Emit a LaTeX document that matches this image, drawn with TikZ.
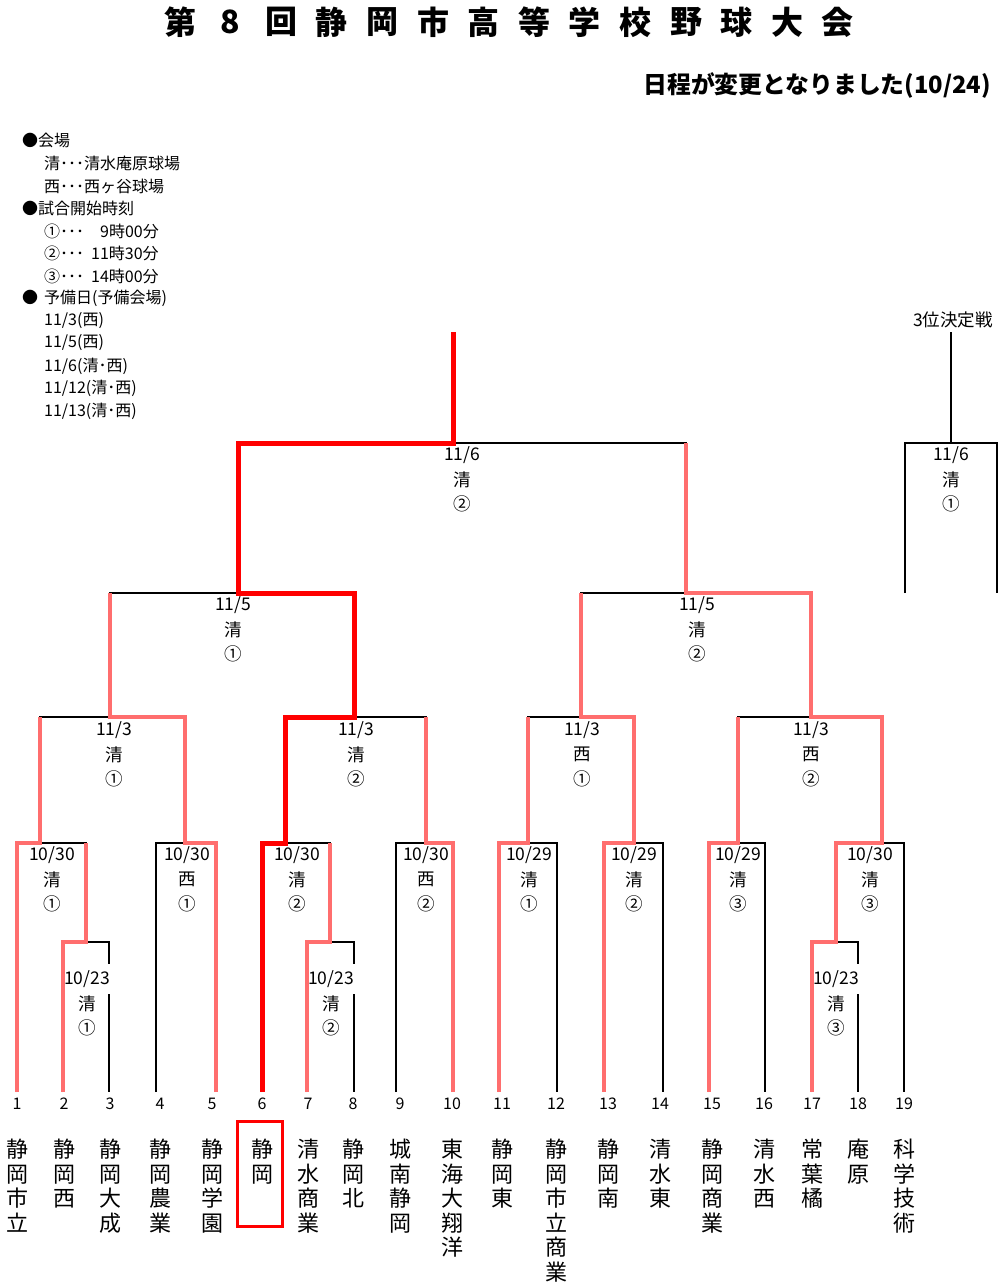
\documentclass[tikz,border=0pt]{standalone}
\usepackage{fontspec}
\setmainfont{Noto Sans CJK JP}
\definecolor{winpink}{RGB}{255,110,110}
\definecolor{champred}{RGB}{255,0,0}
\tikzset{
  bline/.style={black, line width=1.5pt},
  wline/.style={winpink, line width=4pt},
  cline/.style={champred, line width=5pt},
  mlbl/.style={inner sep=1pt, font=\fontsize{17.5}{20}\selectfont},
  dlbl/.style={mlbl, fill=white},
  tnum/.style={inner sep=0pt, font=\fontsize{16}{18}\selectfont},
  tname/.style={anchor=north, align=center, inner sep=0pt, font=\fontsize{22}{24.5}\selectfont},
  legend/.style={anchor=west, inner sep=0pt, font=\fontsize{16}{18}\selectfont},
  ttl/.style={inner sep=0pt, font=\bfseries\fontsize{32}{34}\selectfont},
}
\begin{document}
\begin{tikzpicture}[x=1pt,y=-1pt]
  \useasboundingbox (0,0) rectangle (1000,1284);
  % title
  \foreach \ch [count=\i] in {第,8,回,静,岡,市,高,等,学,校,野,球,大,会}
    \node[ttl] (ttl\i) at ({180+50.6*(\i-1)},22) {\ch};
  \node[ttl, anchor=east, font=\bfseries\fontsize{23.8}{26}\selectfont] (note) at (991,86) {日程が変更となりました(10/24)};
  % legend
  \foreach \y/\x/\txt [count=\i] in {140/22/●会場, 163/44/{清･･･清水庵原球場}, 186/44/{西･･･西ヶ谷球場},
      208/22/●試合開始時刻, 231/44/{①･･･\hspace{16pt}9時00分}, 253/44/{②･･･\hspace{7pt}11時30分},
      276/44/{③･･･\hspace{7pt}14時00分}, 298/22/{●\hspace{6pt}予備日(予備会場)},
      321/44/{11/3(西)}, 343/44/{11/5(西)}, 366/44/{11/6(清･西)}, 388/44/{11/12(清･西)}, 411/44/{11/13(清･西)}}
    \node[legend] (leg\i) at (\x,\y) {\txt};

  % leaves and match points
  \foreach \i/\x in {1/17,2/63,3/109,4/156,5/216,6/262,7/307,8/354,9/396,10/453,
      11/499,12/557,13/604,14/663,15/709,16/765,17/812,18/858,19/904}
    \coordinate (t\i) at (\x,1092);
  \coordinate (r1a) at (86,942);
  \coordinate (r1b) at (330,942);
  \coordinate (r1c) at (836,942);
  \foreach \n/\x in {m1/40,m2/185,m3/285,m4/426,m5/528,m6/634,m7/738,m8/882}
    \coordinate (\n) at (\x,843);
  \foreach \n/\x in {q1/110,q2/354,q3/581,q4/811}
    \coordinate (\n) at (\x,717);
  \coordinate (s1) at (238,593);
  \coordinate (s2) at (686,593);
  \coordinate (fin) at (453,443);
  \coordinate (top) at (453,332);
  \coordinate (bronze) at (951,443);
  \coordinate (btop) at (951,332);
  \coordinate (b1) at (905,593);
  \coordinate (b2) at (997,593);

  % bracket
  \foreach \l/\m/\r in {t2/r1a/t3, t7/r1b/t8, t17/r1c/t18,
      t1/m1/r1a, t4/m2/t5, t6/m3/r1b, t9/m4/t10, t11/m5/t12, t13/m6/t14, t15/m7/t16, r1c/m8/t19,
      m1/q1/m2, m3/q2/m4, m5/q3/m6, m7/q4/m8, q1/s1/q2, q3/s2/q4, s1/fin/s2, b1/bronze/b2}
    \draw[bline] (\l) |- (\m) -| (\r);
  \draw[bline] (fin) -- (top);
  \draw[bline] (bronze) -- (btop);
  \node[mlbl] (bronze-h) at (953,320) {3位決定戦};

  % match labels
  \foreach \n/\x/\y/\d/\v/\s in {r1a/87/979/{10/23}/清/①, r1b/331/979/{10/23}/清/②, r1c/836/979/{10/23}/清/③} {
    \node[dlbl, inner ysep=6pt] (\n-d) at (\x,\y) {\d};
    \node[mlbl] (\n-v) at (\x,\y+24.5) {\v};
    \node[mlbl] (\n-s) at (\x,\y+49) {\s};
  }
  \foreach \n/\x/\y/\d/\v/\s in {m1/52/855/{10/30}/清/①, m2/187/855/{10/30}/西/①, m3/297/855/{10/30}/清/②,
      m4/426/855/{10/30}/西/②, m5/529/855/{10/29}/清/①, m6/634/855/{10/29}/清/②,
      m7/738/855/{10/29}/清/③, m8/870/855/{10/30}/清/③,
      q1/114/730/{11/3}/清/①, q2/356/730/{11/3}/清/②, q3/582/730/{11/3}/西/①, q4/811/730/{11/3}/西/②,
      s1/233/605/{11/5}/清/①, s2/697/605/{11/5}/清/②,
      fin/462/455/{11/6}/清/②, bronze/951/455/{11/6}/清/①} {
    \node[dlbl] (\n-d) at (\x,\y) {\d};
    \node[mlbl] (\n-v) at (\x,\y+24.5) {\v};
    \node[mlbl] (\n-s) at (\x,\y+49) {\s};
  }

  % winners
  \draw[wline] (t1) |- (m1) -- (m1 |- q1);
  \draw[wline] (t2) |- (r1a) -- (r1a |- m1);
  \draw[wline] (t5) |- (m2) |- (q1) -- (q1 |- s1);
  \draw[wline] (t7) |- (r1b) -- (r1b |- m3);
  \draw[wline] (t10) |- (m4) -- (m4 |- q2);
  \draw[wline] (t11) |- (m5) -- (m5 |- q3);
  \draw[wline] (t13) |- (m6) |- (q3) -- (q3 |- s2);
  \draw[wline] (t15) |- (m7) -- (m7 |- q4);
  \draw[wline] (t17) |- (r1c) |- (m8) |- (q4) |- (s2) -- (s2 |- fin);
  \draw[cline] (t6) |- (m3) |- (q2) |- (s1) |- (fin) -- (top);

  % teams
  \foreach \i/\x/\name in {1/17/{静\\岡\\市\\立}, 2/64/{静\\岡\\西}, 3/110/{静\\岡\\大\\成},
      4/160/{静\\岡\\農\\業}, 5/212/{静\\岡\\学\\園}, 6/262/{静\\岡}, 7/308/{清\\水\\商\\業},
      8/353/{静\\岡\\北}, 9/400/{城\\南\\静\\岡}, 10/452/{東\\海\\大\\翔\\洋}, 11/502/{静\\岡\\東},
      12/556/{静\\岡\\市\\立\\商\\業}, 13/608/{静\\岡\\南}, 14/660/{清\\水\\東}, 15/712/{静\\岡\\商\\業},
      16/764/{清\\水\\西}, 17/812/{常\\葉\\橘}, 18/858/{庵\\原}, 19/904/{科\\学\\技\\術}} {
    \node[tnum] (num\i) at (\x,1104) {\i};
    \node[tname] (name\i) at (\x,1139) {\name};
  }
  \node[draw=champred, line width=3pt, minimum width=45, minimum height=105] (pick) at (259.5,1173.5) {};
\end{tikzpicture}
\end{document}
